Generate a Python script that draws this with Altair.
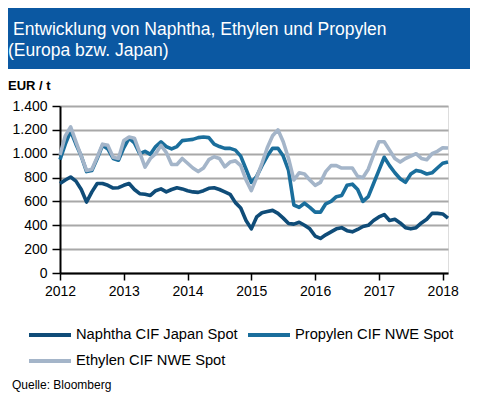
import altair as alt
import pandas as pd

# ---------------- data (monthly, Jan 2012 .. Feb 2018) ----------------
start_year = 2012
series_names = ["Naphtha CIF Japan Spot", "Propylen CIF NWE Spot", "Ethylen CIF NWE Spot"]
series_colors = ["#0f4c78", "#1a6e9c", "#a4b5c9"]

naphtha = [750, 780, 805, 770, 700, 595, 680, 750, 750, 735, 712, 715,
           735, 750, 700, 665, 660, 650, 690, 705, 680, 700, 715, 705,
           690, 680, 676, 690, 710, 715, 700, 680, 660, 590, 545, 440,
           370, 470, 505, 515, 525, 500, 460, 415, 410, 425, 400, 370,
           310, 290, 320, 345, 370, 380, 355, 345, 365, 390, 400, 440,
           470, 490, 440, 450, 420, 380, 370, 380, 420, 450, 500, 500,
           495, 460]
propylen = [950, 1080, 1190, 1080, 980, 850, 860, 960, 1070, 1040, 960, 945,
            1050, 1130, 1090, 1000, 1020, 995, 1060, 1100, 1060, 1040, 1060, 1110,
            1115, 1120, 1135, 1140, 1135, 1080, 1060, 1045, 1045, 1030, 980, 870,
            760, 810, 900, 980, 1045, 1045, 980, 860, 570, 550, 585, 550,
            510, 510, 580, 600, 640, 650, 735, 745, 700, 600, 640, 750,
            860, 970, 900, 840, 790, 760, 830, 860, 850, 830, 840, 880,
            920, 930]
ethylen = [990, 1150, 1225, 1100, 980, 860, 870, 970, 1080, 1070, 970, 960,
           1110, 1140, 1130, 1010, 888, 960, 1000, 1070, 1010, 910, 910, 960,
           920, 880, 850, 880, 950, 975, 960, 890, 930, 940, 900, 780,
           690, 800, 920, 1050, 1150, 1200, 1100, 960, 780, 840, 830, 780,
           735, 760, 850, 900, 900, 880, 880, 880, 810, 800, 870, 990,
           1100, 1100, 1030, 960, 930, 960, 980, 1000, 960, 950, 1000, 1020,
           1050, 1048]

x_ticks = [2012, 2013, 2014, 2015, 2016, 2017, 2018]
y_ticks = [0, 200, 400, 600, 800, 1000, 1200, 1400]

title_lines = ["Entwicklung von Naphtha, Ethylen und Propylen", "(Europa bzw. Japan)"]
unit_label = "EUR / t"
source_label = "Quelle: Bloomberg"

# ---------------- build table ----------------
rows = []
for name, vals in zip(series_names, [naphtha, propylen, ethylen]):
    for i, v in enumerate(vals):
        rows.append({"t": start_year + i / 12.0, "value": v, "series": name})
df = pd.DataFrame(rows)

FONT = "Liberation Sans"
W, H = 388, 167

x_enc = alt.X(
    "t:Q",
    scale=alt.Scale(domain=[2012, 2018 + 1 / 12.0], nice=False, zero=False),
    axis=alt.Axis(values=x_ticks, format="d", title=None, grid=False,
                  labelFontSize=14, labelFont=FONT, labelColor="#000000",
                  labelPadding=4, tickSize=7, tickColor="#000000", tickWidth=1.5,
                  domainColor="#000000", domainWidth=2, labelFlush=False),
)
y_enc = alt.Y(
    "value:Q",
    scale=alt.Scale(domain=[0, 1400], nice=False),
    axis=alt.Axis(values=y_ticks, title=None, grid=True, gridColor="#a8a8a8", gridWidth=2,
                  labelExpr="replace(format(datum.value, ','), ',', '.')",
                  labelFontSize=14, labelFont=FONT, labelColor="#000000",
                  labelPadding=5, tickSize=8, tickColor="#000000", tickWidth=1.5,
                  domainColor="#000000", domainWidth=2),
)
color_enc = alt.Color(
    "series:N",
    sort=series_names,
    scale=alt.Scale(domain=series_names, range=series_colors),
    legend=alt.Legend(
        title=None, orient="none", legendX=-33, legendY=220, columns=2,
        direction="horizontal",
        values=series_names,
        symbolType="M-1,0H5", symbolSize=196, symbolStrokeWidth=4,
        labelFontSize=14.7, labelFont=FONT, labelColor="#000000", labelLimit=400,
        labelOffset=31, rowPadding=9, columnPadding=2, padding=0,
        symbolOffset=0,
    ),
)

base = alt.Chart(df)
lines = alt.layer(*[
    base.transform_filter(alt.datum.series == name)
        .mark_line(strokeWidth=3.6, strokeJoin="round")
        .encode(x=x_enc, y=y_enc, color=color_enc)
    for name in series_names
])

one = pd.DataFrame({"k": [0]})
banner = alt.Chart(one).mark_rect(color="#0b58a2").encode(
    x=alt.value(-52), x2=alt.value(410), y=alt.value(-98), y2=alt.value(-37)
)
t1 = alt.Chart(one).mark_text(text=title_lines[0], align="left", baseline="alphabetic",
                              font=FONT, fontSize=17.5, color="#ffffff").encode(
    x=alt.value(-47), y=alt.value(-71))
t2 = alt.Chart(one).mark_text(text=title_lines[1], align="left", baseline="alphabetic",
                              font=FONT, fontSize=17.5, color="#ffffff").encode(
    x=alt.value(-52), y=alt.value(-50))
unit = alt.Chart(one).mark_text(text=unit_label, align="left", baseline="alphabetic",
                                font=FONT, fontSize=13, fontWeight="bold", color="#000000").encode(
    x=alt.value(-52), y=alt.value(-16))
src = alt.Chart(one).mark_text(text=source_label, align="left", baseline="alphabetic",
                               font=FONT, fontSize=12, color="#000000").encode(
    x=alt.value(-48), y=alt.value(283))

chart = alt.layer(banner, t1, t2, unit, src, lines).properties(
    width=W, height=H,
    autosize=alt.AutoSizeParams(type="none"),
    padding={"left": 52, "top": 98, "right": 22, "bottom": 124},
).configure_view(stroke=None).configure(background="#ffffff")

chart.save("out.html", embed_options={"renderer": "svg", "actions": False})
